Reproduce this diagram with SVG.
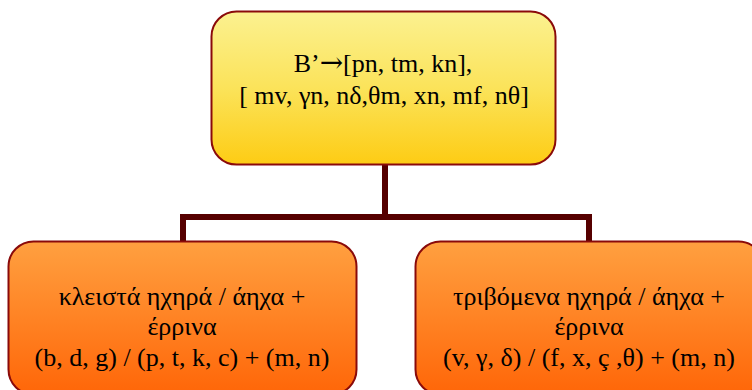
<svg xmlns="http://www.w3.org/2000/svg" width="752" height="390" viewBox="0 0 752 390">
<defs>
<linearGradient id="gTop" x1="0" y1="0" x2="0" y2="1">
<stop offset="0" stop-color="#fbf190"/>
<stop offset="0.5" stop-color="#fbe35a"/>
<stop offset="1" stop-color="#fdcc14"/>
</linearGradient>
<linearGradient id="gLeaf" x1="0" y1="0" x2="0" y2="1">
<stop offset="0" stop-color="#ffa040"/>
<stop offset="1" stop-color="#ff6608"/>
</linearGradient>
</defs>
<style>
.box{stroke:#8a0a0a;stroke-width:2}
.top{fill:url(#gTop)}
.leaf{fill:url(#gLeaf)}
text{font-family:"Liberation Serif","Times New Roman",serif;font-size:26px;fill:#000;text-anchor:middle}
.arr{font-family:"DejaVu Serif",serif;font-size:28px}
.conn{fill:none;stroke:#560000;stroke-width:6;stroke-linejoin:miter;stroke-linecap:butt}
</style>
<g id="connectors">
<path class="conn" d="M385 164 V217 M183 242 V217 H589 V242"/>
</g>
<g id="root">
<rect class="box top" x="211.5" y="11.5" width="344" height="153" rx="25" ry="25"/>
<text x="383" y="72">B’<tspan class="arr">→</tspan>[pn, tm, kn],</text>
<text x="384" y="104">[ mv, γn, nδ,θm, xn, mf, nθ]</text>
</g>
<g id="left">
<rect class="box leaf" x="8.5" y="241.5" width="348" height="153" rx="25" ry="25"/>
<text x="182" y="305">κλειστά ηχηρά / άηχα +</text>
<text x="182" y="335">έρρινα</text>
<text x="182" y="366">(b, d, g) / (p, t, k, c) + (m, n)</text>
</g>
<g id="right">
<rect class="box leaf" x="415.5" y="241.5" width="348" height="153" rx="25" ry="25"/>
<text x="589" y="305">τριβόμενα ηχηρά / άηχα +</text>
<text x="589" y="335">έρρινα</text>
<text x="589" y="366">(v, γ, δ) / (f, x, ç ,θ) + (m, n)</text>
</g>
</svg>
